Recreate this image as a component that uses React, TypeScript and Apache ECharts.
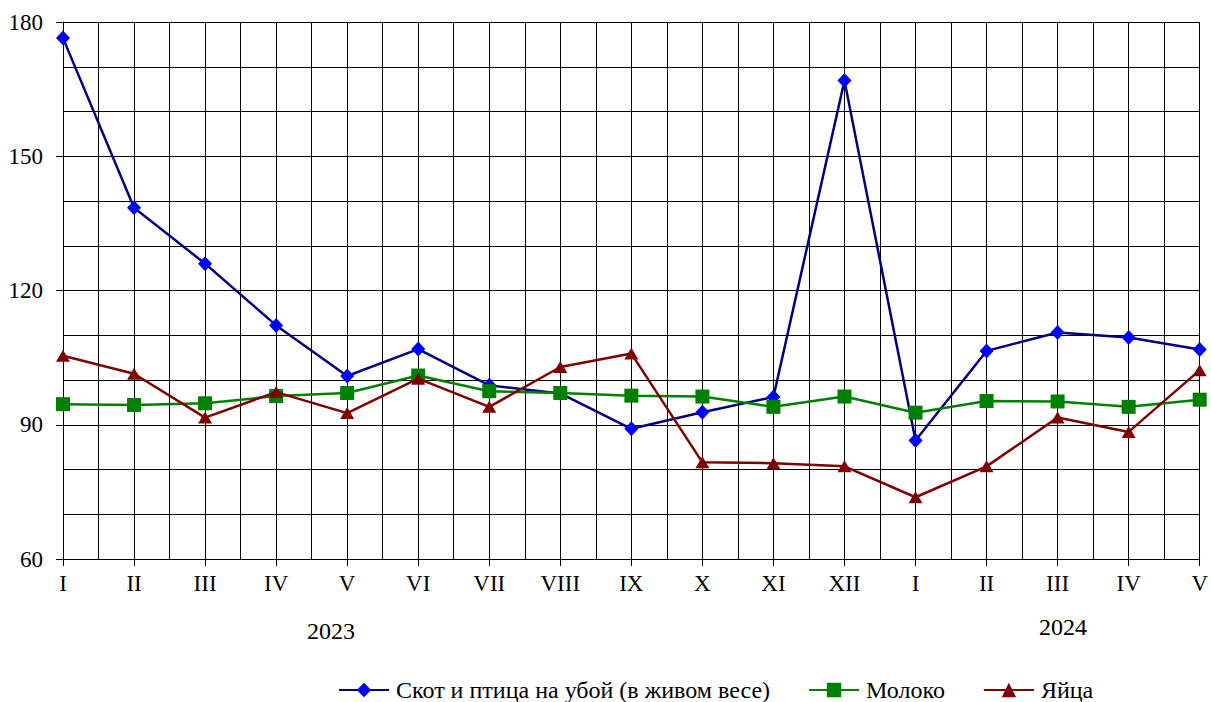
import React, { useEffect, useRef } from "react";
import * as echarts from "echarts";

const monthLabels = ["I", "II", "III", "IV", "V", "VI", "VII", "VIII", "IX", "X", "XI", "XII", "I", "II", "III", "IV", "V"];
const livestock = [176.4, 138.5, 126.0, 112.2, 100.9, 106.9, 98.8, 97.0, 89.1, 92.8, 96.2, 166.9, 86.5, 106.5, 110.6, 109.5, 106.8];
const milk = [94.6, 94.4, 94.8, 96.4, 97.1, 101.0, 97.5, 97.1, 96.5, 96.3, 94.0, 96.3, 92.7, 95.3, 95.2, 94.0, 95.6];
const eggs = [105.4, 101.4, 91.6, 97.3, 92.6, 100.3, 94.0, 102.9, 105.9, 81.6, 81.4, 80.7, 73.8, 80.7, 91.6, 88.4, 102.2];
const seriesNames = ["Скот и птица на убой (в живом весе)", "Молоко", "Яйца"];
const yearLabels = ["2023", "2024"];

const FONT = "'Liberation Serif', 'Times New Roman', serif";

export default function App() {
  const ref = useRef<HTMLDivElement>(null);
  useEffect(() => {
    if (!ref.current) return;
    const chart = echarts.init(ref.current, null, { renderer: "svg" });
    const toPts = (arr: number[]) => arr.map((v, i) => [i, v]);
    const gridLine = { show: true, lineStyle: { color: "#000", width: 1 } };
    chart.setOption({
      animation: false,
      textStyle: { fontFamily: FONT },
      grid: { left: 63, right: 8, top: 22, bottom: 143, containLabel: false },
      xAxis: {
        type: "value",
        min: 0,
        max: 16,
        interval: 1,
        axisLine: { show: true, onZero: false, lineStyle: { color: "#000", width: 1 } },
        axisTick: { show: true, inside: false, length: 7, lineStyle: { color: "#000" } },
        axisLabel: {
          margin: 13,
          color: "#000",
          fontSize: 23,
          fontFamily: FONT,
          formatter: (v: number) => (Number.isInteger(v) ? monthLabels[v] ?? "" : ""),
        },
        splitLine: gridLine,
        minorTick: { show: false, splitNumber: 2 },
        minorSplitLine: gridLine,
      },
      yAxis: {
        type: "value",
        min: 60,
        max: 180,
        interval: 30,
        axisLine: { show: true, lineStyle: { color: "#000", width: 1 } },
        axisTick: { show: true, inside: false, length: 7, lineStyle: { color: "#000" } },
        axisLabel: { margin: 20, color: "#000", fontSize: 23, fontFamily: FONT },
        splitLine: gridLine,
        minorTick: { show: false, splitNumber: 3 },
        minorSplitLine: gridLine,
      },
      legend: {
        left: 338,
        top: 678,
        padding: 0,
        itemWidth: 50,
        itemHeight: 18,
        itemGap: 38,
        textStyle: { fontSize: 24, lineHeight: 24, color: "#000", fontFamily: FONT, padding: [0, 0, 0, 2] },
        data: seriesNames,
      },
      graphic: [
        { type: "text", left: 307, top: 619, style: { text: yearLabels[0], font: `24px ${FONT}`, fill: "#000" } },
        { type: "text", left: 1039, top: 615, style: { text: yearLabels[1], font: `24px ${FONT}`, fill: "#000" } },
      ],
      series: [
        {
          name: seriesNames[0],
          type: "line",
          data: toPts(livestock),
          symbol: "diamond",
          symbolSize: [14, 15],
          lineStyle: { color: "#000080", width: 2.5 },
          itemStyle: { color: "#0000FF" },
          z: 3,
        },
        {
          name: seriesNames[1],
          type: "line",
          data: toPts(milk),
          symbol: "rect",
          symbolSize: 14,
          lineStyle: { color: "#008000", width: 2.5 },
          itemStyle: { color: "#008000" },
          z: 4,
        },
        {
          name: seriesNames[2],
          type: "line",
          data: toPts(eggs),
          symbol: "triangle",
          symbolSize: [14, 12],
          lineStyle: { color: "#800000", width: 2.5 },
          itemStyle: { color: "#800000" },
          z: 5,
        },
      ],
    });
    return () => chart.dispose();
  }, []);
  return (
    <div
      ref={ref}
      style={{ position: "fixed", left: 0, top: 0, width: 1211, height: 702, background: "#fff" }}
    />
  );
}
